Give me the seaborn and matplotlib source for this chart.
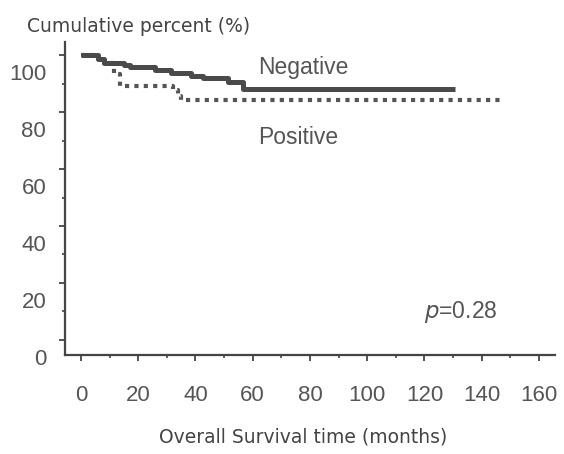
import numpy as np
import pandas as pd
import matplotlib
matplotlib.use("Agg")
import matplotlib.pyplot as plt
import matplotlib.transforms as mtransforms
from matplotlib.ticker import MultipleLocator
import seaborn as sns

# Data
neg_time = [0, 6, 8, 15, 17, 26, 31.5, 38.5, 42.5, 51.5, 56.5, 130.5]
neg_surv = [100, 98.5, 97.4, 96.5, 95.8, 94.7, 93.8, 92.7, 91.8, 90.6, 88.0, 88.0]
pos_time = [0, 6, 8, 11.5, 13.5, 32, 34, 35, 147]
pos_surv = [100, 98.5, 97.4, 93.5, 89.0, 87.6, 85.8, 84.2, 84.2]
x_ticks = [0, 20, 40, 60, 80, 100, 120, 140, 160]
y_ticks = [0, 20, 40, 60, 80, 100]

sns.set_style("ticks")
plt.rcParams['font.family'] = ['Liberation Sans', 'DejaVu Sans']

fig = plt.figure(figsize=(5.64, 4.54), dpi=100)
ax = fig.add_axes([0.1152, 0.218, 0.984 - 0.1152, 0.9075 - 0.218])

neg = pd.DataFrame({"time": neg_time, "surv": neg_surv})
pos = pd.DataFrame({"time": pos_time, "surv": pos_surv})

col = "#4a4a4a"
sns.lineplot(data=pos, x="time", y="surv", ax=ax, drawstyle="steps-post",
             color="#555555", linewidth=3.0, linestyle=(0, (1, 1.25)),
             estimator=None, sort=False)
sns.lineplot(data=neg, x="time", y="surv", ax=ax, drawstyle="steps-post",
             color=col, linewidth=3.6, estimator=None, sort=False,
             solid_capstyle="butt")

ax.set_xlim(-5.6, 165.6)
ax.set_ylim(-5.3, 104.6)
ax.set_xticks(x_ticks)
ax.set_yticks(y_ticks)
ax.xaxis.set_minor_locator(MultipleLocator(10))
ax.yaxis.set_minor_locator(MultipleLocator(10))
ax.set_xlabel("")
ax.set_ylabel("")

for s in ["top", "right"]:
    ax.spines[s].set_visible(False)
for s in ["left", "bottom"]:
    ax.spines[s].set_color("#444444")
    ax.spines[s].set_linewidth(1.6)

ax.tick_params(axis="both", which="major", direction="out", length=4.5, width=1.3,
               color="#444444", labelsize=16, labelcolor="#555555")
ax.tick_params(axis="both", which="minor", direction="out", length=2.5, width=1.2,
               color="#444444")
ax.tick_params(axis="x", which="major", pad=17)
ax.tick_params(axis="y", which="major", pad=9)

offset = mtransforms.ScaledTranslation(0, -12 / 72, fig.dpi_scale_trans)
for lab in ax.get_yticklabels():
    lab.set_transform(lab.get_transform() + offset)

lab_font = ['DejaVu Sans']
fig.text(27 / 564, 1 - 26 / 454, "Cumulative percent (%)", family=lab_font,
         fontsize=13.5, color="#444444", ha="left", va="center")
fig.text(303 / 564, 1 - 437 / 454, "Overall Survival time (months)", family=lab_font,
         fontsize=13.5, color="#444444", ha="center", va="center")

ax.text(62, 95.8, "Negative", fontsize=16.5, color="#555555", ha="left", va="center")
ax.text(62, 71.2, "Positive", fontsize=16.5, color="#555555", ha="left", va="center")
ax.text(120, 9.8, "$p$=0.28", fontsize=16.5, color="#555555", ha="left", va="center")

fig.savefig("out.png", dpi=100, facecolor="white")
